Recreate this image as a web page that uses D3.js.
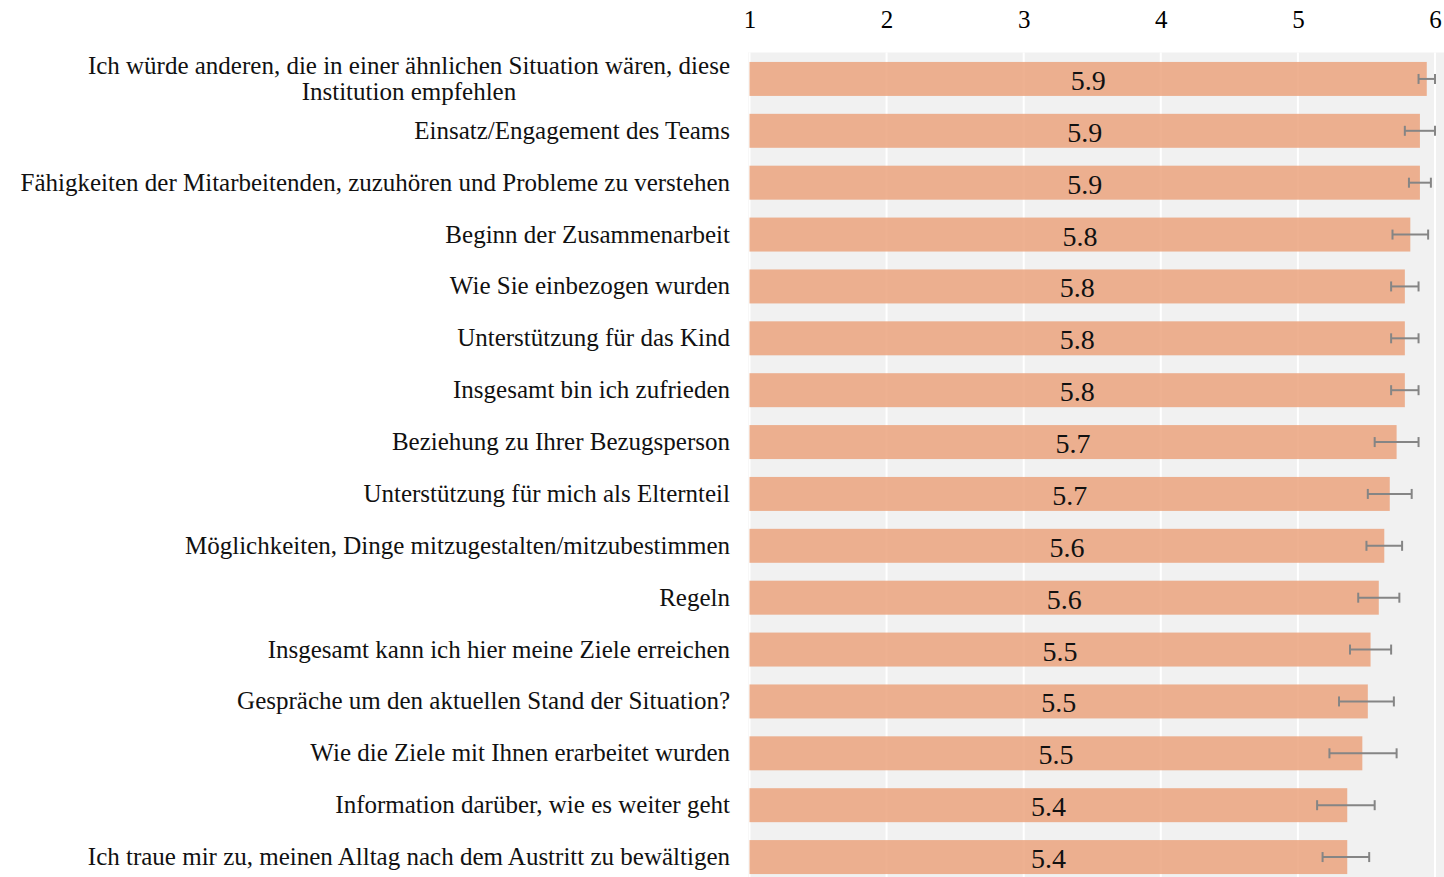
<!DOCTYPE html>
<html>
<head>
<meta charset="utf-8">
<script src="https://cdn.jsdelivr.net/npm/d3@7"></script>
<style>
  body { margin: 0; background: #fff; }
  svg { display: block; font-family: "Liberation Serif", "DejaVu Serif", serif; }
</style>
</head>
<body>
<svg id="chart" width="1444" height="877"></svg>
<script>

// survey items, top to bottom
const items = [
    "Ich würde anderen, die in einer ähnlichen Situation wären, diese|Institution empfehlen",
    "Einsatz/Engagement des Teams",
    "Fähigkeiten der Mitarbeitenden, zuzuhören und Probleme zu verstehen",
    "Beginn der Zusammenarbeit",
    "Wie Sie einbezogen wurden",
    "Unterstützung für das Kind",
    "Insgesamt bin ich zufrieden",
    "Beziehung zu Ihrer Bezugsperson",
    "Unterstützung für mich als Elternteil",
    "Möglichkeiten, Dinge mitzugestalten/mitzubestimmen",
    "Regeln",
    "Insgesamt kann ich hier meine Ziele erreichen",
    "Gespräche um den aktuellen Stand der Situation?",
    "Wie die Ziele mit Ihnen erarbeitet wurden",
    "Information darüber, wie es weiter geht",
    "Ich traue mir zu, meinen Alltag nach dem Austritt zu bewältigen"
]

// mean scores
const means = [5.94, 5.89, 5.89, 5.82, 5.78, 5.78, 5.78, 5.72, 5.67, 5.63, 5.59, 5.53, 5.51, 5.47, 5.36, 5.36]

// confidence interval bounds
const ciLow  = [5.88, 5.78, 5.81, 5.69, 5.68, 5.68, 5.68, 5.56, 5.51, 5.50, 5.44, 5.38, 5.30, 5.23, 5.14, 5.18]
const ciHigh = [6.00, 6.00, 5.97, 5.95, 5.88, 5.88, 5.88, 5.88, 5.83, 5.76, 5.74, 5.68, 5.70, 5.72, 5.56, 5.52]

const xTicks = [1, 2, 3, 4, 5, 6]

const data = items.map((d, i) => ({
    label: d.split("|"),
    mean: means[i],
    lo: ciLow[i],
    hi: ciHigh[i]
}))

const svg = d3.select("#chart")

const x = d3.scaleLinear().domain([1, 6]).range([749.5, 1435])
const y = d3.scaleBand()
    .domain(d3.range(data.length))
    .range([53, 883])
    .paddingInner(0.345)
    .paddingOuter(0.1725)

// panel background
svg.append("rect")
    .attr("x", x(1) - 1.5)
    .attr("y", 52.5)
    .attr("width", 1444 - x(1) + 1.5)
    .attr("height", 877 - 52.5)
    .attr("fill", "#f1f1f1")

// vertical grid
svg.append("g")
    .selectAll("line")
    .data(xTicks).enter()
    .append("line")
        .attr("x1", d => x(d))
        .attr("x2", d => x(d))
        .attr("y1", 52.5)
        .attr("y2", 877)
        .attr("stroke", "#fff")
        .attr("stroke-width", 2)

// top axis labels
const xAxis = svg.append("g")
    .attr("transform", "translate(0,28)")
    .call(d3.axisTop(x).tickValues(xTicks).tickSize(0).tickPadding(0).tickFormat(d3.format("d")))
xAxis.select(".domain").remove()
xAxis.selectAll("text")
    .attr("font-family", "Liberation Serif")
    .attr("font-size", 25)
    .attr("fill", "#000")
    .attr("dy", 0)

const rows = svg.append("g")
    .selectAll("g")
    .data(data).enter()
    .append("g")
        .attr("transform", (d, i) => "translate(0," + y(i) + ")")

const bw = y.bandwidth()

rows.append("rect")
    .attr("x", x(1))
    .attr("y", 0)
    .attr("width", d => x(d.mean) - x(1))
    .attr("height", bw)
    .attr("fill", "rgb(235,163,126)")
    .attr("fill-opacity", 0.85)

// value labels in the middle of each bar
rows.append("text")
    .attr("x", d => (x(1) + x(d.mean)) / 2)
    .attr("y", bw / 2 + 11)
    .attr("text-anchor", "middle")
    .attr("font-size", 28)
    .attr("fill", "#111")
    .text(d => d3.format(".1f")(d.mean))

// error bars
const eb = rows.append("g")
    .attr("stroke", "#858585")
    .attr("stroke-width", 2)
eb.append("line")
    .attr("x1", d => x(d.lo))
    .attr("x2", d => x(d.hi))
    .attr("y1", bw / 2)
    .attr("y2", bw / 2)
eb.append("line")
    .attr("x1", d => x(d.lo))
    .attr("x2", d => x(d.lo))
    .attr("y1", bw / 2 - 5)
    .attr("y2", bw / 2 + 5)
eb.append("line")
    .attr("x1", d => x(d.hi))
    .attr("x2", d => x(d.hi))
    .attr("y1", bw / 2 - 5)
    .attr("y2", bw / 2 + 5)

// category labels, right aligned; wrapped lines are centred on the first one
rows.each(function (d) {
    const g = d3.select(this)
    const n = d.label.length
    const first = g.append("text")
        .attr("x", 730)
        .attr("y", bw / 2 + 8 - (n - 1) * 13)
        .attr("text-anchor", "end")
        .attr("font-size", 25)
        .attr("fill", "#111")
        .text(d.label[0])
    const w = first.node().getComputedTextLength()
    for (let k = 1; k < n; k++) {
        g.append("text")
            .attr("x", 730 - w / 2)
            .attr("y", bw / 2 + 8 - (n - 1) * 13 + k * 26)
            .attr("text-anchor", "middle")
            .attr("font-size", 25)
            .attr("fill", "#111")
            .text(d.label[k])
    }
})

</script>
</body>
</html>
